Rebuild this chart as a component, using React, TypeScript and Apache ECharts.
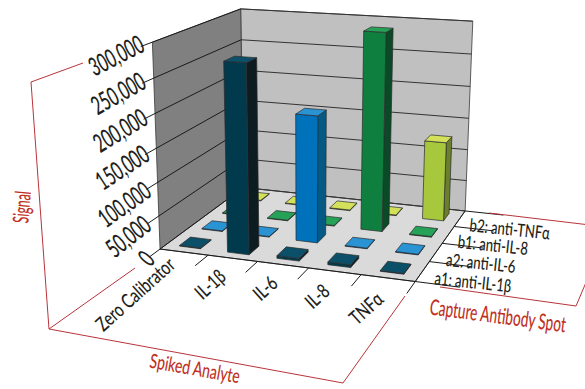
import React, { useEffect, useRef } from "react";
import * as echarts from "echarts";

const WIDTH = 585;
const HEIGHT = 389;

// Signal readings, one list per capture antibody spot, in analyte order.
const analytes = ["Zero Calibrator", "IL-1β", "IL-6", "IL-8", "TNFα"];
const a1Values = [1000, 276000, 4000, 4000, 1000];
const a2Values = [1000, 1000, 190000, 1000, 1000];
const b1Values = [1000, 1000, 1000, 300000, 1000];
const b2Values = [1000, 1000, 1000, 1000, 124000];
const spotLabels = ["a1: anti-IL-1β", "a2: anti-IL-6", "b1: anti-IL-8", "b2: anti-TNFα"];
const signalTicks = [0, 50000, 100000, 150000, 200000, 250000, 300000];
const SIGNAL_MAX = 300000;

const INK = "#231f20";
const RED = "#b9343a";
const TITLE_RED = "#c0321f";
const LABEL_FONT = "Lato";
const TITLE_FONT = "Lato";

// Screen positions of known box points: [x, height, depth] -> [px, py].
const calibration: [number, number, number, number, number][] = [
  [0, 0, 0, 160, 248],
  [1, 0, 0, 415, 282],
  [1, 0, 1, 466, 210],
  [0, 0, 1, 243, 187],
  [0, 1, 0, 153, 41],
  [0, 1, 1, 241, 8],
  [1, 1, 1, 472, 21],
  [0, 0.5, 1, 242, 102],
  [1, 0.5, 1, 469, 119],
  [0, 0.5, 0, 156, 150],
];

// Least-squares fit of the 3x4 camera matrix (lower-right entry fixed at 1).
function solveCamera(): number[] {
  const rows: number[][] = [];
  const rhs: number[] = [];
  for (const [x, y, z, u, v] of calibration) {
    rows.push([x, y, z, 1, 0, 0, 0, 0, -u * x, -u * y, -u * z]);
    rhs.push(u);
    rows.push([0, 0, 0, 0, x, y, z, 1, -v * x, -v * y, -v * z]);
    rhs.push(v);
  }
  const n = 11;
  const m: number[][] = [];
  for (let i = 0; i < n; i++) {
    const line = new Array(n + 1).fill(0);
    rows.forEach((row, k) => {
      for (let j = 0; j < n; j++) line[j] += row[i] * row[j];
      line[n] += row[i] * rhs[k];
    });
    line[i] += 1e-9;
    m.push(line);
  }
  for (let c = 0; c < n; c++) {
    let pivot = c;
    for (let r = c + 1; r < n; r++) if (Math.abs(m[r][c]) > Math.abs(m[pivot][c])) pivot = r;
    [m[c], m[pivot]] = [m[pivot], m[c]];
    for (let r = 0; r < n; r++) {
      if (r === c) continue;
      const f = m[r][c] / m[c][c];
      for (let j = c; j <= n; j++) m[r][j] -= f * m[c][j];
    }
  }
  return m.map((line, i) => line[n] / line[i]);
}

const cam = solveCamera();

function project(x: number, y: number, z: number): number[] {
  const w = cam[8] * x + cam[9] * y + cam[10] * z + 1;
  return [
    (cam[0] * x + cam[1] * y + cam[2] * z + cam[3]) / w,
    (cam[4] * x + cam[5] * y + cam[6] * z + cam[7]) / w,
  ];
}

const signalToHeight = (v: number) => echarts.number.linearMap(v, [0, SIGNAL_MAX], [0, 1], false);

// Draws one spot row of 3D columns; the row's depth and face colours are fixed per series.
function columnSeries(name: string, values: number[], row: number, front: string, side: string, top: string) {
  const cellW = 1 / analytes.length;
  const cellD = 1 / spotLabels.length;
  return {
    type: "custom",
    name,
    coordinateSystem: "none",
    silent: true,
    data: values.map((v, i) => [i, v]),
    renderItem: (_: unknown, api: any) => {
      const cx = (api.value(0) + 0.5) * cellW;
      const cz = (row + 0.5) * cellD;
      const h = signalToHeight(api.value(1));
      const x0 = cx - 0.22 * cellW;
      const x1 = cx + 0.22 * cellW;
      const z0 = cz - 0.24 * cellD;
      const z1 = cz + 0.24 * cellD;
      const edge = { stroke: "#2b2b2b", lineWidth: 0.7, lineJoin: "round" };
      const face = (pts: number[][], fill: string) => ({
        type: "polygon",
        shape: { points: pts },
        style: { fill, ...edge },
      });
      return {
        type: "group",
        children: [
          face([project(x1, 0, z0), project(x1, 0, z1), project(x1, h, z1), project(x1, h, z0)], side),
          face([project(x0, 0, z0), project(x1, 0, z0), project(x1, h, z0), project(x0, h, z0)], front),
          face([project(x0, h, z0), project(x1, h, z0), project(x1, h, z1), project(x0, h, z1)], top),
        ],
      };
    },
  };
}

function line(a: number[], b: number[], stroke: string, lineWidth = 1) {
  return {
    type: "line",
    shape: { x1: a[0], y1: a[1], x2: b[0], y2: b[1] },
    style: { stroke, lineWidth },
  };
}

function poly(points: number[][], fill: string) {
  return { type: "polygon", shape: { points }, style: { fill, stroke: "#3a3a3a", lineWidth: 0.8 } };
}

// deg is measured clockwise on screen; echarts' rotation runs the other way.
function label(text: string, x: number, y: number, deg: number, size: number, fill: string, family: string, squeeze: number) {
  return {
    type: "text",
    x,
    y,
    rotation: (-deg * Math.PI) / 180,
    scaleX: squeeze,
    style: {
      text,
      fill,
      font: `500 ${size}px ${family}`,
      textAlign: "center",
      textVerticalAlign: "middle",
    },
  };
}

function frameGraphics() {
  const items: any[] = [];
  items.push(poly([project(0, 0, 1), project(1, 0, 1), project(1, 1, 1), project(0, 1, 1)], "#c0c0c0"));
  items.push(poly([project(0, 0, 0), project(0, 0, 1), project(0, 1, 1), project(0, 1, 0)], "#808080"));
  items.push(poly([project(0, 0, 0), project(1, 0, 0), project(1, 0, 1), project(0, 0, 1)], "#dadada"));

  // Value gridlines run along the left and back walls, with a tick outside the box.
  signalTicks.forEach((t) => {
    const h = signalToHeight(t);
    items.push(line(project(0, h, -0.11), project(0, h, 1), "#1a1a1a", 1));
    items.push(line(project(0, h, 1), project(1, h, 1), "#333333", 1));
  });

  // Front and right edges of the floor with their category ticks.
  items.push(line(project(0, 0, 0), project(1, 0, 0), "#1a1a1a", 1));
  items.push(line(project(1, 0, 0), project(1, 0, 1), "#1a1a1a", 1));
  analytes.concat("").forEach((_, i) => {
    const x = i / analytes.length;
    if (i > 0) items.push(line(project(x, 0, 0), project(x, 0, -0.14), "#1a1a1a", 1));
  });
  spotLabels.concat("").forEach((_, i) => {
    const z = i / spotLabels.length;
    items.push(line(project(1, 0, z), project(1.16, 0, z), "#1a1a1a", 1));
  });

  // Red callout frames around the axes.
  const red = (pts: number[][]) => ({
    type: "polyline",
    shape: { points: pts },
    style: { stroke: RED, lineWidth: 1, fill: "none" },
  });
  items.push(red([[83, 63], [31, 82], [49, 329], [135, 268]]));
  items.push(red([[49, 329], [343, 383], [405, 296]]));
  items.push(red([[440, 287], [576, 306], [590, 273]]));
  items.push(red([[489, 213], [590, 225]]));

  // Value axis labels, fanned with the perspective of the left wall.
  const tickPlaces: [number, number, number][] = [
    [146, 258, -50],
    [128, 236, -38],
    [124, 204, -35],
    [122, 167, -33],
    [120, 130, -31],
    [118, 93, -29],
    [116, 55, -27],
  ];
  signalTicks.forEach((t, i) => {
    const [x, y, deg] = tickPlaces[i];
    items.push(label(t.toLocaleString("en-US"), x, y, deg, 26, INK, LABEL_FONT, 0.6));
  });

  const analytePlaces: [number, number][] = [
    [135, 294],
    [210, 284],
    [265, 288],
    [317, 296],
    [366, 308],
  ];
  analytes.forEach((a, i) => {
    items.push(label(a, analytePlaces[i][0], analytePlaces[i][1], -42, 20, INK, LABEL_FONT, 0.74));
  });

  const spotPlaces: [number, number, number][] = [
    [473, 281, 6],
    [481, 262, 6],
    [493, 244, 6],
    [510, 228, 6],
  ];
  spotLabels.forEach((s, i) => {
    items.push(label(s, spotPlaces[i][0], spotPlaces[i][1], spotPlaces[i][2], 18, INK, LABEL_FONT, 0.73));
  });

  items.push(label("Signal", 21, 207, -85, 22, TITLE_RED, TITLE_FONT, 0.56));
  items.push(label("Spiked Analyte", 195, 368, 10, 20, TITLE_RED, TITLE_FONT, 0.7));
  items.push(label("Capture Antibody Spot", 498, 315, 7.5, 22, TITLE_RED, TITLE_FONT, 0.62));

  return items;
}

export default function App() {
  const ref = useRef<HTMLDivElement>(null);
  useEffect(() => {
    const chart = echarts.init(ref.current!, undefined, { renderer: "svg" });
    chart.setOption({
      animation: false,
      backgroundColor: "#ffffff",
      graphic: { elements: frameGraphics() },
      series: [
        columnSeries("b2", b2Values, 3, "#a7c83c", "#6b7f2e", "#d3e05a"),
        columnSeries("b1", b1Values, 2, "#0f7f3f", "#0b4a27", "#26a158"),
        columnSeries("a2", a2Values, 1, "#0071bb", "#045a85", "#2a93d4"),
        columnSeries("a1", a1Values, 0, "#023a4d", "#0d1c20", "#0b5068"),
      ],
    });
    return () => chart.dispose();
  }, []);
  return (
    <div
      ref={ref}
      style={{ position: "absolute", left: 0, top: 0, width: WIDTH, height: HEIGHT }}
    />
  );
}
